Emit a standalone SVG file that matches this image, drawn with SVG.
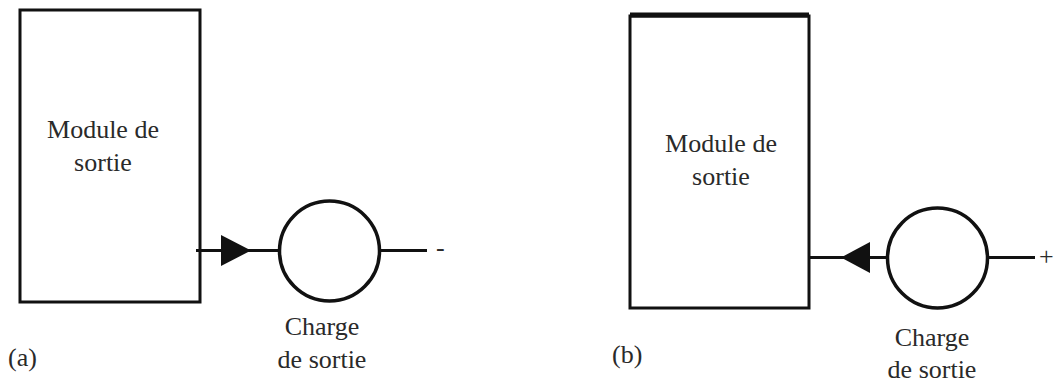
<svg xmlns="http://www.w3.org/2000/svg" width="1059" height="383" viewBox="0 0 1059 383">
<style>
text{font-family:"Liberation Serif","Times New Roman",Times,serif !important;font-size:26px;fill:#2a2a2a}
</style>
<rect width="1059" height="383" fill="#fff"/>
<g id="module-a">
<rect fill="#fff" stroke="#111" stroke-width="3" x="20" y="10" width="180" height="292"/>
<text style="font-family:'Liberation Serif',serif" text-anchor="middle" x="103" y="138">Module de</text>
<text style="font-family:'Liberation Serif',serif" text-anchor="middle" x="103" y="171">sortie</text>
</g>
<g id="load-a">
<circle fill="#fff" stroke="#111" stroke-width="3.5" cx="329.5" cy="251" r="50"/>
<text style="font-family:'Liberation Serif',serif" text-anchor="middle" x="322" y="335">Charge</text>
<text style="font-family:'Liberation Serif',serif" text-anchor="middle" x="322" y="368">de sortie</text>
</g>
<g id="label-a"><text style="font-family:'Liberation Serif',serif" x="8" y="366">(a)</text></g>
<g id="terminal-a"><text style="font-family:'Liberation Serif',serif" x="436" y="256">-</text></g>
<g id="module-b">
<rect fill="#fff" stroke="#111" stroke-width="3" x="630" y="16" width="179" height="292"/>
<line x1="630" y1="15" x2="809" y2="15" stroke="#111" stroke-width="5"/>
<text style="font-family:'Liberation Serif',serif" text-anchor="middle" x="721" y="152">Module de</text>
<text style="font-family:'Liberation Serif',serif" text-anchor="middle" x="721" y="185">sortie</text>
</g>
<g id="load-b">
<circle fill="#fff" stroke="#111" stroke-width="3.5" cx="937.5" cy="258" r="50"/>
<text style="font-family:'Liberation Serif',serif" text-anchor="middle" x="932" y="346">Charge</text>
<text style="font-family:'Liberation Serif',serif" text-anchor="middle" x="932" y="378">de sortie</text>
</g>
<g id="label-b"><text style="font-family:'Liberation Serif',serif" x="612" y="363">(b)</text></g>
<g id="terminal-b"><text style="font-family:'Liberation Serif',serif" x="1039" y="265">+</text></g>
<g id="connectors" stroke="#111" stroke-width="3">
<line x1="196" y1="250.5" x2="279" y2="250.5"/>
<polygon fill="#111" stroke="none" points="221,235 251,250.5 221,266"/>
<line x1="380" y1="250.5" x2="427" y2="250.5"/>
<line x1="809" y1="257.5" x2="887" y2="257.5"/>
<polygon fill="#111" stroke="none" points="870,242 841,257.5 870,273"/>
<line x1="988" y1="257.5" x2="1035" y2="257.5"/>
</g>
</svg>
